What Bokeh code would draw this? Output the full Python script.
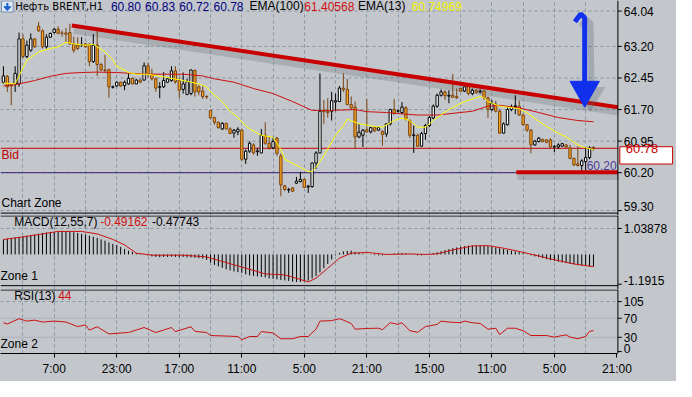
from bokeh.plotting import figure
from bokeh.layouts import column
from bokeh.models import Range1d, FixedTicker, Label, Grid
from bokeh.core.properties import value
from bokeh.embed import file_html
from bokeh.resources import INLINE

# ---------------- data ----------------
open_ = [62.35, 62.49, 62.29, 62.31, 62.31, 63.38, 62.96, 63.11, 63.38, 63.68,
         63.57, 63.19, 63.42, 63.53, 63.61, 63.52, 63.52, 63.53, 63.26, 63.23,
         63.24, 63.26, 63.25, 62.84, 63.23, 62.77, 62.64, 62.65, 62.23, 62.26,
         62.35, 62.27, 62.31, 62.44, 62.31, 62.40, 62.40, 62.74, 62.54, 62.43,
         62.23, 62.24, 62.35, 62.39, 62.62, 62.39, 62.18, 62.06, 62.08, 62.63,
         62.24, 62.14, 62.01, 61.68, 61.51, 61.40, 61.24, 61.37, 61.24, 61.14,
         61.17, 61.21, 60.52, 60.71, 60.86, 60.70, 60.67, 61.09, 60.90, 60.79,
         61.02, 60.60, 59.89, 59.79, 59.84, 59.95, 59.99, 60.04, 59.86, 59.87,
         60.43, 60.67, 61.68, 61.66, 61.66, 61.88, 61.89, 62.21, 62.18, 61.82,
         61.76, 61.05, 61.09, 61.22, 61.17, 61.27, 61.21, 61.18, 61.12, 61.36,
         61.70, 61.66, 61.63, 61.74, 61.44, 61.08, 61.09, 60.83, 61.13, 61.32,
         61.50, 61.78, 62.04, 62.12, 62.02, 62.04, 62.01, 62.20, 62.14, 62.24,
         62.08, 62.16, 62.12, 62.14, 61.98, 61.70, 61.83, 61.66, 61.14, 61.34,
         61.70, 61.77, 61.78, 61.57, 61.34, 61.21, 60.86, 60.94, 60.99, 60.98,
         60.98, 60.81, 60.81, 60.83, 60.86, 60.79, 60.54, 60.41, 60.37, 60.46,
         60.56, 60.80]
high = [62.73, 62.52, 62.33, 62.73, 63.53, 63.49, 63.34, 63.51, 63.40, 63.78,
        63.61, 63.49, 63.53, 63.63, 63.68, 63.58, 63.64, 63.74, 63.43, 63.42,
        63.42, 63.28, 63.28, 63.49, 63.57, 62.81, 63.00, 62.67, 62.27, 62.36,
        62.36, 62.39, 62.56, 62.46, 62.43, 62.43, 62.82, 62.81, 62.67, 62.46,
        62.35, 62.59, 62.46, 62.73, 62.73, 62.46, 62.58, 62.43, 62.65, 62.65,
        62.29, 62.26, 62.04, 61.69, 61.53, 61.41, 61.40, 61.39, 61.28, 61.24,
        61.28, 61.24, 60.75, 60.94, 60.90, 60.79, 61.24, 61.40, 61.05, 61.05,
        61.05, 60.66, 59.91, 59.84, 59.85, 60.10, 60.22, 60.06, 59.91, 60.44,
        60.71, 62.56, 61.93, 61.97, 62.12, 62.08, 62.26, 62.56, 62.43, 62.01,
        61.89, 61.36, 61.24, 61.95, 61.28, 61.28, 61.28, 61.21, 61.37, 61.72,
        61.95, 61.70, 61.88, 61.78, 61.47, 61.32, 61.13, 61.17, 61.36, 61.55,
        61.82, 62.08, 62.18, 62.16, 62.16, 62.54, 62.20, 62.21, 62.31, 62.31,
        62.20, 62.18, 62.18, 62.16, 62.01, 61.93, 61.91, 61.70, 61.40, 61.78,
        61.82, 62.04, 61.91, 61.60, 61.36, 61.24, 60.98, 61.05, 61.01, 60.99,
        61.02, 60.86, 60.90, 60.90, 60.87, 60.86, 60.56, 60.83, 60.52, 60.81,
        60.83, 60.83]
low = [62.31, 62.12, 61.80, 62.12, 62.24, 62.92, 62.92, 63.07, 63.17, 63.55,
       63.15, 63.15, 63.40, 63.51, 63.49, 63.43, 63.30, 63.23, 63.05, 63.11,
       63.19, 63.17, 62.73, 62.81, 62.50, 62.62, 62.58, 61.98, 62.20, 62.24,
       62.24, 62.16, 62.29, 62.30, 62.30, 62.33, 62.39, 62.46, 62.39, 62.12,
       61.97, 62.21, 62.33, 62.36, 62.31, 61.97, 62.08, 62.04, 62.04, 62.01,
       62.04, 61.95, 61.95, 61.47, 61.34, 61.25, 61.21, 61.23, 61.12, 61.03,
       61.09, 60.48, 60.41, 60.67, 60.63, 60.60, 60.66, 60.86, 60.75, 60.76,
       60.60, 59.64, 59.76, 59.72, 59.74, 59.93, 59.97, 59.84, 59.72, 59.84,
       60.29, 60.66, 61.36, 61.51, 61.44, 61.66, 61.88, 62.12, 61.80, 61.70,
       60.76, 61.02, 60.81, 61.15, 61.13, 61.18, 61.19, 60.84, 61.05, 61.32,
       61.59, 61.63, 61.59, 61.44, 61.02, 60.67, 60.81, 60.81, 60.98, 61.28,
       61.47, 61.74, 62.01, 61.93, 61.85, 61.98, 61.95, 62.12, 62.12, 62.04,
       62.04, 62.08, 62.08, 61.93, 61.50, 61.66, 61.63, 61.13, 61.13, 61.32,
       61.66, 61.59, 61.55, 61.32, 61.17, 60.66, 60.84, 60.92, 60.92, 60.90,
       60.79, 60.69, 60.76, 60.81, 60.79, 60.52, 60.37, 60.35, 60.25, 60.20,
       60.52, 60.72]
close = [62.50, 62.24, 62.26, 62.56, 63.38, 62.96, 63.23, 63.38, 63.19, 63.57,
         63.19, 63.42, 63.51, 63.61, 63.51, 63.51, 63.49, 63.26, 63.11, 63.15,
         63.25, 63.19, 62.84, 63.23, 62.77, 62.64, 62.63, 62.24, 62.24, 62.35,
         62.26, 62.35, 62.44, 62.31, 62.40, 62.35, 62.74, 62.54, 62.43, 62.21,
         62.24, 62.39, 62.43, 62.62, 62.36, 62.16, 62.31, 62.36, 62.64, 62.12,
         62.12, 62.01, 62.00, 61.50, 61.40, 61.27, 61.37, 61.24, 61.13, 61.21,
         61.23, 60.52, 60.71, 60.90, 60.67, 60.72, 61.09, 60.90, 60.79, 60.94,
         60.66, 59.91, 59.80, 59.80, 59.76, 60.00, 60.04, 59.85, 59.88, 60.43,
         60.67, 61.66, 61.65, 61.63, 61.91, 61.91, 62.21, 62.18, 61.82, 61.74,
         61.05, 61.16, 61.21, 61.17, 61.27, 61.19, 61.27, 61.11, 61.36, 61.70,
         61.60, 61.67, 61.76, 61.47, 61.09, 61.10, 60.83, 61.13, 61.32, 61.51,
         61.78, 62.04, 62.12, 62.03, 62.04, 61.99, 61.98, 62.14, 62.24, 62.08,
         62.16, 62.11, 62.14, 61.98, 61.70, 61.85, 61.66, 61.14, 61.36, 61.70,
         61.76, 61.79, 61.57, 61.34, 61.21, 60.86, 60.95, 61.02, 60.94, 60.92,
         60.81, 60.82, 60.86, 60.89, 60.81, 60.54, 60.38, 60.37, 60.48, 60.56,
         60.79, 60.78]

ema13_idx = [0, 3, 4, 6, 8, 9, 12, 14, 16, 18, 21, 23, 26, 28, 29, 32, 34, 37, 42, 46,
             50, 52, 53, 56, 58, 60, 61, 63, 66, 69, 71, 72, 76, 78, 79, 80, 82, 85, 87, 88,
             89, 91, 95, 97, 100, 102, 104, 106, 108, 110, 111, 114, 118, 120, 122, 123, 124,
             127, 132, 134, 137, 139, 142, 144, 147, 149, 151]
ema13_val = [62.33, 62.31, 62.50, 62.88, 63.00, 63.07, 63.15, 63.19, 63.30, 63.26, 63.23,
             63.25, 63.07, 62.88, 62.73, 62.58, 62.54, 62.54, 62.46, 62.39, 62.31, 62.24,
             62.12, 61.89, 61.66, 61.51, 61.40, 61.24, 61.09, 61.04, 60.75, 60.52, 60.33,
             60.22, 60.23, 60.33, 60.60, 61.09, 61.32, 61.47, 61.44, 61.36, 61.30, 61.28,
             61.44, 61.50, 61.44, 61.28, 61.28, 61.44, 61.51, 61.70, 61.89, 61.95, 62.01,
             61.98, 61.89, 61.78, 61.72, 61.62, 61.42, 61.30, 61.14, 61.05, 60.86, 60.79,
             60.75]

ema100_idx = [0, 3, 8, 12, 16, 20, 24, 29, 37, 46, 51, 54, 59, 64, 69, 74, 79, 84, 90, 93,
              98, 103, 106, 111, 114, 120, 124, 127, 132, 137, 142, 147, 151]
ema100_val = [62.26, 62.29, 62.39, 62.49, 62.56, 62.58, 62.59, 62.58, 62.54, 62.54, 62.50,
              62.43, 62.35, 62.20, 62.08, 61.89, 61.68, 61.68, 61.70, 61.65, 61.63, 61.59,
              61.57, 61.57, 61.60, 61.66, 61.78, 61.80, 61.74, 61.63, 61.51, 61.44, 61.41]

macd_hist = [0.60, 0.62, 0.65, 0.68, 0.70, 0.73, 0.75, 0.78, 0.80, 0.83,
             0.86, 0.88, 0.89, 0.90, 0.91, 0.92, 0.92, 0.91, 0.89, 0.86,
             0.82, 0.79, 0.75, 0.71, 0.66, 0.60, 0.55, 0.48, 0.42, 0.37,
             0.30, 0.22, 0.15, 0.10, 0.06, 0.03, 0.02, -0.04, -0.08, -0.10,
             -0.11, -0.10, -0.10, -0.09, -0.10, -0.11, -0.10, -0.12, -0.12, -0.13,
             -0.15, -0.17, -0.22, -0.32, -0.42, -0.48, -0.54, -0.60, -0.64, -0.68,
             -0.71, -0.74, -0.80, -0.84, -0.86, -0.88, -0.90, -0.92, -0.96, -0.98,
             -1.00, -1.02, -1.04, -1.06, -1.09, -1.10, -1.10, -1.08, -1.05, -0.96,
             -0.86, -0.72, -0.55, -0.38, -0.20, -0.04, 0.06, 0.12, 0.14, 0.15,
             0.10, 0.06, 0.03, 0.01, -0.01, -0.03, -0.04, -0.04, -0.02, 0.01,
             0.04, 0.05, 0.06, 0.04, 0.01, -0.02, -0.04, -0.04, -0.02, 0.02,
             0.06, 0.09, 0.13, 0.17, 0.21, 0.25, 0.28, 0.30, 0.33, 0.35,
             0.36, 0.37, 0.37, 0.36, 0.33, 0.30, 0.28, 0.25, 0.22, 0.18,
             0.15, 0.12, 0.09, 0.05, 0.01, -0.04, -0.08, -0.11, -0.15, -0.19,
             -0.23, -0.26, -0.29, -0.32, -0.35, -0.38, -0.40, -0.43, -0.45, -0.47,
             -0.48, -0.48]
signal_idx = [0, 5, 10, 14, 20, 24, 28, 31, 34, 38, 46, 52, 56, 62, 67, 72, 76, 78, 80, 83,
              86, 89, 93, 98, 104, 108, 111, 115, 120, 124, 128, 134, 140, 146, 151]
signal_val = [0.60, 0.70, 0.82, 0.92, 0.92, 0.82, 0.60, 0.38, 0.05, -0.03, -0.03, -0.10,
              -0.28, -0.55, -0.78, -0.82, -1.00, -1.10, -0.95, -0.55, -0.15, 0.05, 0.08,
              0.00, 0.02, 0.00, 0.02, 0.18, 0.34, 0.35, 0.25, 0.05, -0.18, -0.38, -0.49]

rsi_idx = [0, 1, 4, 6, 8, 10, 13, 16, 19, 21, 22, 24, 27, 30, 32, 36, 39, 43, 44, 48,
           49, 52, 53, 58, 60, 61, 63, 65, 66, 69, 71, 74, 76, 78, 80, 81, 84, 86, 87, 89,
           90, 93, 96, 97, 99, 101, 102, 104, 106, 108, 111, 112, 114, 117, 118, 120, 122,
           124, 126, 127, 129, 131, 133, 135, 139, 141, 143, 144, 145, 147, 149, 150, 151]
rsi_val = [60.6, 58.0, 69.0, 64.0, 66.0, 62.0, 64.0, 62.0, 52.5, 56.0, 45.0, 52.0, 37.0,
           39.0, 40.0, 50.5, 40.0, 50.5, 42.0, 52.0, 42.5, 40.0, 33.7, 32.3, 31.6, 24.9,
           31.6, 31.6, 42.0, 39.0, 26.9, 26.9, 31.6, 31.6, 47.0, 64.0, 65.0, 69.0, 66.0,
           59.0, 47.0, 48.6, 49.0, 46.0, 60.6, 57.0, 60.6, 43.8, 40.4, 52.5, 57.0, 64.0,
           62.0, 60.6, 64.0, 60.6, 59.0, 47.0, 49.0, 35.7, 49.0, 49.0, 43.8, 33.7, 33.7,
           30.3, 33.7, 35.0, 30.3, 27.0, 31.6, 42.4, 44.0]

price_ticks = [64.04, 63.20, 62.45, 61.70, 60.95, 60.20, 59.30]
price_tick_labels = ["64.04", "63.20", "62.45", "61.70", "60.95", "60.20", "59.30"]
macd_ticks = [1.03878, -1.1915]
macd_tick_labels = ["1.03878", "-1.1915"]
rsi_ticks = [105, 70, 30, 0]
rsi_tick_labels = ["105", "70", "30", "0"]
time_ticks = [13, 29, 45, 61, 77, 93, 109, 125, 141, 157]
time_labels = ["7:00", "23:00", "17:00", "11:00", "5:00", "21:00", "15:00", "11:00", "5:00", "21:00"]
grid_ticks = list(range(5, 157, 8))

bid_price = 60.78
bid_label = "60.78"
low_level = 60.20

# ---------------- layout helpers (target pixel -> data) ----------------
def X(px):
    return px / 4.0 - 0.75

def YM(py):
    return 64.04 - (py - 11) / 43.75

def YD(py):
    return (264 - py) / 26.0

def YR(py):
    return (365 - py) / 0.495

BG = "#c3c7cc"
GRID = "#8793a3"
FONT = "Liberation Sans"
W = 676
AXX = X(632)

xr = Range1d(X(0), X(692))


def panel(h, yr, bottom=0, xloc=None):
    p = figure(width=W, height=h, x_range=xr, y_range=yr, x_axis_location=xloc,
               y_axis_location=None, output_backend="svg", toolbar_location=None,
               min_border=0, min_border_bottom=bottom)
    p.background_fill_color = BG
    p.border_fill_color = BG
    p.outline_line_color = None
    for g in p.grid:
        g.visible = False
    p.add_layout(Grid(dimension=0, ticker=FixedTicker(ticks=grid_ticks),
                      grid_line_color=GRID, grid_line_dash="3 3", grid_line_width=1))
    return p


def scale(p, ticks, labels, y_top, y_bot, offsets):
    p.segment(x0=AXX, x1=AXX, y0=y_top, y1=y_bot, line_color="black", line_width=1)
    p.segment(x0=AXX, x1=X(636), y0=ticks, y1=ticks, line_color="black", line_width=1)
    p.text(x=[X(638)] * len(ticks), y=ticks, text=labels, text_font=value(FONT),
           text_font_size=value("12px"), text_color="black", text_baseline="middle",
           text_align="left", y_offset=offsets)


def hline(p, y, color="black", dash="solid"):
    p.segment(x0=X(0), x1=AXX, y0=y, y1=y, line_color=color, line_width=1, line_dash=dash)


def lab(p, x, y, text, color="black", size="12px", font=FONT):
    p.add_layout(Label(x=x, y=y, text=text, text_color=color, text_font=font,
                       text_font_size=size, text_baseline="middle", text_align="left"))


# ---------------- main price panel ----------------
main = panel(215, Range1d(YM(223.5), YM(0)))
hline(main, price_ticks, GRID, "3 3")
hline(main, bid_price, "#c80000")
hline(main, low_level, "#3a1c74")

# trend lines (with soft shadow)
tl_x = [X(73), X(632)]
tl_y = [YM(26), YM(111)]
hl_x = [X(528), X(632)]
hl_y = [YM(178.5), YM(178.5)]
main.line([X(75), X(633)], [YM(31), YM(116)], line_width=7, line_color="#6c737c", line_alpha=0.3)
main.line([X(529), X(633)], [YM(183), YM(183)], line_width=7, line_color="#6c737c", line_alpha=0.3)

# candles
xs = list(range(len(close)))
bull = [c >= o for o, c in zip(open_, close)]
tops = [max(o, c) for o, c in zip(open_, close)]
bots = [min(o, c) for o, c in zip(open_, close)]
wick_col = ["black" if b else "#7a4210" for b in bull]
fill_col = ["white" if b else "#f5a321" for b in bull]
main.segment(x0=xs, y0=low, x1=xs, y1=high, line_color=wick_col, line_width=1)
main.vbar(x=xs, width=0.6, top=tops, bottom=bots, fill_color=fill_col, line_color=wick_col, line_width=1)

# moving averages
main.line(ema100_idx, ema100_val, line_color="#cc1010", line_width=1)
main.line(ema13_idx, ema13_val, line_color="#ffff00", line_width=1)

main.line(tl_x, tl_y, line_width=4, line_color="#c80000")
main.line(hl_x, hl_y, line_width=4, line_color="#c80000")

# blue arrow
main.line([X(594), X(600), X(604), X(605)], [YM(27), YM(20), YM(24), YM(90)],
          line_width=6, line_color="#5a6270", line_alpha=0.3)
main.patch([X(589), X(619), X(604)], [YM(90), YM(90), YM(116)], fill_color="#5a6270",
           fill_alpha=0.3, line_color=None)
main.line([X(588), X(594), X(598), X(598)], [YM(22), YM(14), YM(18), YM(85)],
          line_width=5, line_color="#1030ee")
main.patch([X(583), X(613), X(598)], [YM(84), YM(84), YM(111)], fill_color="#1030ee",
           line_color="#1030ee")

# border + price scale
hline(main, YM(221))
scale(main, price_ticks, price_tick_labels, YM(0), YM(223.5), [0, 0, 0, 0, 0, 0, -4])

# current bid price box
main.quad(left=X(634), right=X(688), top=YM(152), bottom=YM(170), fill_color="white",
          line_color="#c80000", line_width=1)
main.text(x=[X(640)], y=[bid_price], text=[bid_label], text_font=value(FONT),
          text_font_size=value("13px"), text_color="#c80000", text_baseline="middle",
          text_align="left")

# header icon
main.quad(left=X(1), right=X(13), top=YM(0.5), bottom=YM(12), fill_color="#dce6f2",
          line_color="#7890b0")
main.segment(x0=X(7), y0=YM(2.5), x1=X(7), y1=YM(7), line_color="#1a62d0", line_width=2)
main.patch([X(3.5), X(10.5), X(7)], [YM(6.5), YM(6.5), YM(10.5)], fill_color="#1a62d0",
           line_color="#1a62d0")

# header texts
HY = YM(6)
lab(main, X(15), HY, "Нефть BRENT,H1", font="DejaVu Sans", size="10px")
lab(main, X(113), HY, "60.80", "#000080")
lab(main, X(148), HY, "60.83", "#000080")
lab(main, X(183), HY, "60.72", "#000080")
lab(main, X(218), HY, "60.78", "#000080")
lab(main, X(255), HY, "EMA(100)")
lab(main, X(311), HY, "61.40568", "#d01010")
lab(main, X(366), HY, "EMA(13)")
lab(main, X(421), HY, "60.74969", "#f0f000")
lab(main, X(1), YM(161), "Bid", "#c00000")
lab(main, X(1), YM(211), "Chart Zone")
lab(main, X(600), YM(172), "60.20", "#4e3a96", "12px")

# ---------------- MACD panel ----------------
macd = panel(74, Range1d(YD(300.5), YD(223.5)))
hline(macd, [macd_ticks[0]], GRID, "3 3")
macd.segment(x0=xs, y0=[0] * len(xs), x1=xs, y1=macd_hist, line_color="black", line_width=1)
macd.line(signal_idx, signal_val, line_color="#cc1010", line_width=1)
hline(macd, YD(224))
hline(macd, YD(296.5))
scale(macd, macd_ticks, macd_tick_labels, YD(223.5), YD(300.5), [0, -4])
lab(macd, X(14), YD(230), "MACD(12,55,7)")
lab(macd, X(102), YD(230), "-0.49162", "#d01010")
lab(macd, X(155), YD(230), "-0.47743")
lab(macd, X(0), YD(286), "Zone 1")

# ---------------- RSI panel ----------------
rsi = panel(92, Range1d(YR(367), YR(300.5)), bottom=28, xloc="below")
hline(rsi, [105], GRID, "3 3")
hline(rsi, [30, 70], "#aab2bb")
hline(rsi, YR(301))
rsi.line(rsi_idx, rsi_val, line_color="#cc1010", line_width=1)
scale(rsi, rsi_ticks, rsi_tick_labels, YR(300.5), YR(367), [0, 0, 0, -3])
xa = rsi.xaxis[0]
xa.bounds = (X(0), AXX)
xa.ticker = FixedTicker(ticks=time_ticks)
xa.major_label_overrides = dict(zip(time_ticks, time_labels))
xa.axis_line_color = "black"
xa.major_tick_out = 4
xa.major_tick_in = 0
xa.minor_tick_line_color = None
xa.major_label_standoff = 4
xa.major_label_text_font = FONT
xa.major_label_text_font_size = "12px"
xa.major_label_text_color = "black"
lab(rsi, X(14), YR(307), "RSI(13)")
lab(rsi, X(59), YR(307), "44", "#d01010")
lab(rsi, X(0), YR(357), "Zone 2")

layout = column(main, macd, rsi, spacing=0)
layout.styles = {"background-color": BG}

open("out.html", "w").write(file_html(layout, INLINE))
